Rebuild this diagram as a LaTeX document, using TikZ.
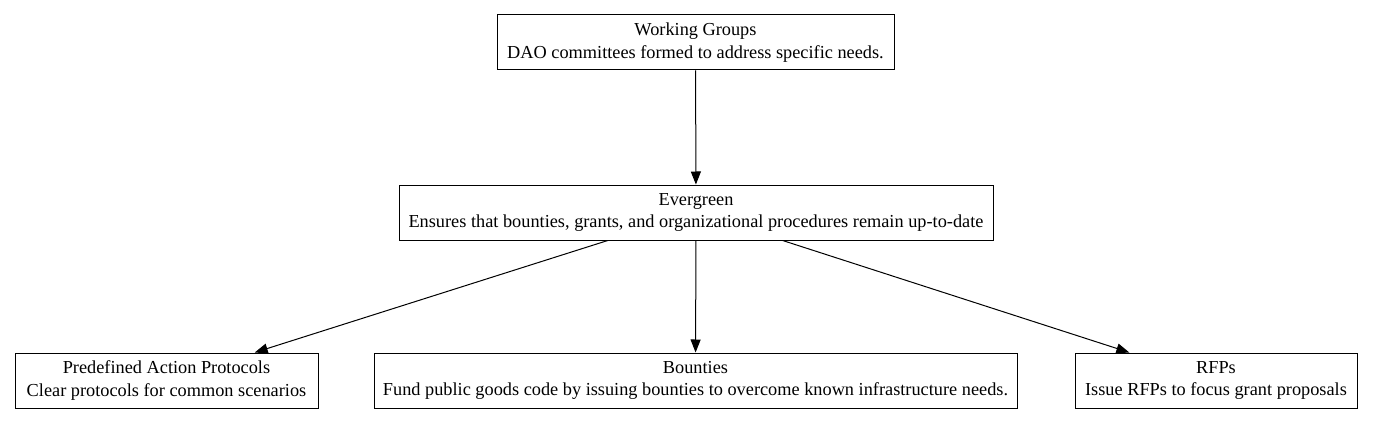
\documentclass[tikz,border=0pt]{standalone}
\usepackage{fontspec}
\setmainfont{Liberation Serif}
\usetikzlibrary{arrows.meta}
\begin{document}
\begin{tikzpicture}[x=1pt,y=-1pt,
  box/.style={draw=black,line width=1pt,align=center,inner sep=0pt,minimum height=55pt,font=\fontsize{18.3}{22.5}\selectfont},
  conn/.style={draw=black,line width=1pt,-{Triangle[length=13pt,width=10pt]}}]
\useasboundingbox (0,0) rectangle (1373,425);
\node[box,minimum width=397pt] (wg) at (695.5,42.5) {Working Groups\\DAO committees formed to address specific needs.};
\node[box,minimum width=594pt] (ev) at (696,212.5) {Evergreen\\Ensures that bounties, grants, and organizational procedures remain up-to-date};
\node[box,minimum width=303pt] (pre) at (166.5,380.5) {Predefined Action Protocols\\Clear protocols for common scenarios};
\node[box,minimum width=643pt] (bo) at (695.5,380.5) {Bounties\\Fund public goods code by issuing bounties to overcome known infrastructure needs.};
\node[box,minimum width=282pt] (rf) at (1216,380.5) {RFPs\\Issue RFPs to focus grant proposals};
\draw[conn] (wg) -- (ev);
\draw[conn] (ev) -- (pre);
\draw[conn] (ev) -- (bo);
\draw[conn] (ev) -- (rf);
\end{tikzpicture}
\end{document}
